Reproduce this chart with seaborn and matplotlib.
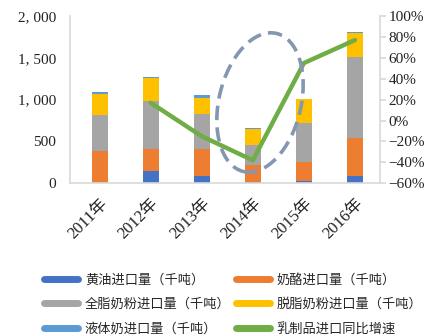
import numpy as np
import pandas as pd
import matplotlib
matplotlib.use("Agg")
import matplotlib.pyplot as plt
import seaborn as sns
from matplotlib.lines import Line2D
from matplotlib.patches import Ellipse
from matplotlib.ticker import FuncFormatter, FixedLocator

years = ["2011年", "2012年", "2013年", "2014年", "2015年", "2016年"]
butter = [0, 151, 92, 20, 28, 92]
cheese = [386, 259, 318, 199, 231, 446]
wmp = [431, 578, 423, 239, 466, 976]
smp = [255, 275, 191, 191, 279, 279]
liquid = [20, 12, 32, 16, 8, 12]
growth = [np.nan, 0.17, -0.15, -0.38, 0.55, 0.77]

labels = ["黄油进口量（千吨）", "奶酪进口量（千吨）", "全脂奶粉进口量（千吨）",
          "脱脂奶粉进口量（千吨）", "液体奶进口量（千吨）", "乳制品进口同比增速"]
colors = ["#4472C4", "#ED7D31", "#A5A5A5", "#FFC000", "#5B9BD5", "#70AD47"]

sns.set_theme(style="white")
plt.rcParams['font.family'] = ['Liberation Serif', 'Noto Sans CJK SC', 'DejaVu Sans']

fig = plt.figure(figsize=(4.34, 3.36), dpi=100)
ax = fig.add_axes([70/434, 1-183.3/336, 310/434, (183.3-16)/336])

df = pd.DataFrame({"year": years, "butter": butter, "cheese": cheese,
                   "wmp": wmp, "smp": smp, "liquid": liquid})
layers = ["butter", "cheese", "wmp", "smp", "liquid"]
cum = df[layers].cumsum(axis=1)
# draw from top layer down so lower layers overlay
for i in range(len(layers) - 1, -1, -1):
    sns.barplot(x=df["year"], y=cum[layers[i]], color=colors[i], width=0.31,
                saturation=1, ax=ax, linewidth=0, order=years)

ax.set_ylim(0, 2000)
ax.set_xlim(-0.58, 5.49)
ax.set_xlabel("")
ax.set_ylabel("")
ax.yaxis.set_major_locator(FixedLocator([0, 500, 1000, 1500, 2000]))
ax.yaxis.set_major_formatter(FuncFormatter(lambda v, p: f"{int(v):,}".replace(",", ", ")))
ax.tick_params(axis="y", labelsize=11, length=0, pad=10, colors="#222222")
ax.tick_params(axis="x", length=0, labelsize=12, colors="#222222", pad=9)
for lab in ax.get_xticklabels():
    lab.set_rotation(45)
    lab.set_ha("right")
    lab.set_rotation_mode("anchor")
for s in ["top", "right"]:
    ax.spines[s].set_visible(False)
for s in ["left", "bottom"]:
    ax.spines[s].set_color("#D9D9D9")
    ax.spines[s].set_linewidth(1.2)

ax2 = ax.twinx()
x_idx = np.arange(len(years))
sns.lineplot(x=x_idx, y=growth, ax=ax2, color=colors[5], linewidth=3.2, legend=False)
ax2.set_ylim(-0.6, 1.0)
ax2.yaxis.set_major_locator(FixedLocator(np.arange(-0.6, 1.01, 0.2)))
ax2.yaxis.set_major_formatter(FuncFormatter(lambda v, p: f"{v*100:.0f}%".replace("-", "−")))
ax2.tick_params(axis="y", labelsize=11, length=4, color="#D9D9D9", pad=2, colors="#222222")
ax2.tick_params(axis="y", color="#D9D9D9")
for s in ["top", "left", "bottom"]:
    ax2.spines[s].set_visible(False)
ax2.spines["right"].set_color("#D9D9D9")
ax2.spines["right"].set_linewidth(1.2)
ax2.set_xlim(-0.58, 5.49)

# dashed ellipse annotation (in inches on figure)
ell = Ellipse((2.60, (336-102.5)/100), 0.82, 1.42, angle=-13.5,
              transform=fig.dpi_scale_trans, fill=False, edgecolor="#8497B0",
              linewidth=2.6, linestyle=(0, (4, 2)), zorder=10)
fig.patches.append(ell)

order = [0, 2, 4, 1, 3, 5]
handles = [Line2D([0], [0], color=colors[i], lw=5) for i in order]
fig.legend(handles, [labels[i] for i in order], ncol=2, loc="upper left",
           bbox_to_anchor=(32/434, 1-262/336), frameon=False,
           prop={"family": ["Noto Sans CJK SC"], "size": 9.5},
           handlelength=2.6, handletextpad=0.5, columnspacing=0.4,
           labelspacing=0.85)

fig.savefig("out.png", dpi=100)
